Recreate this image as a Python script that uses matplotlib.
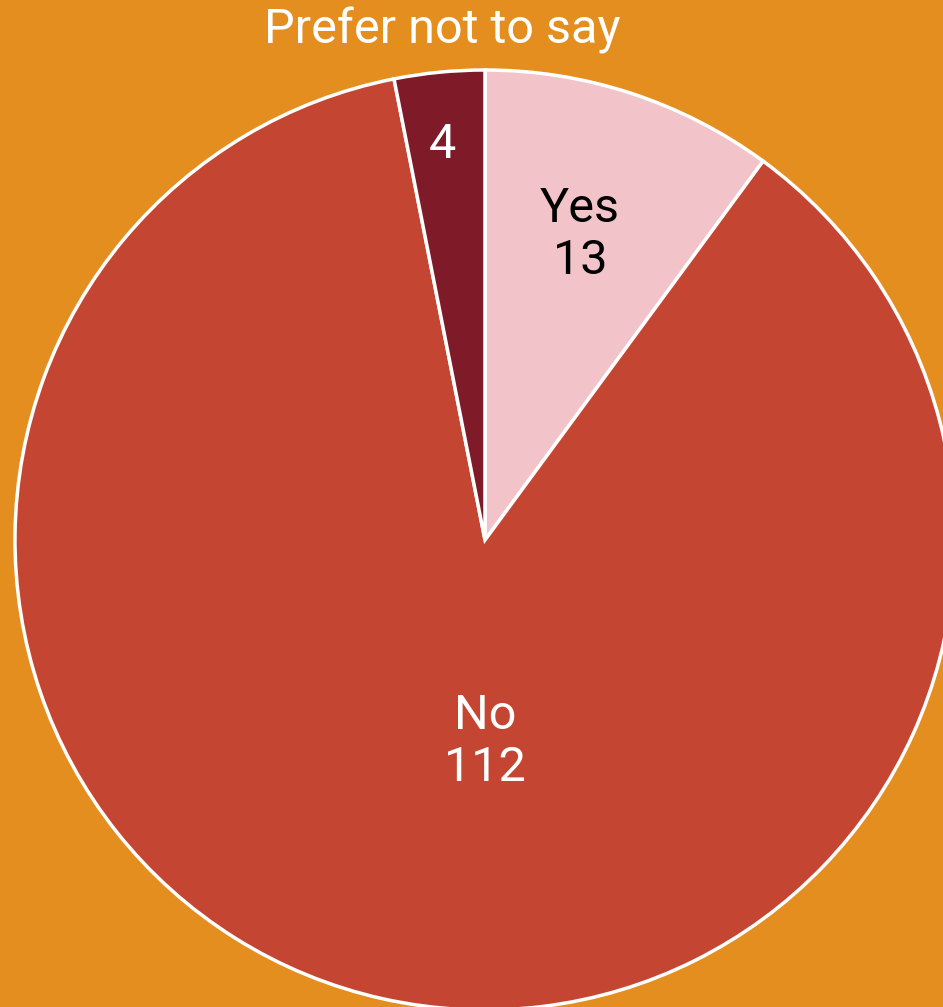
import matplotlib
matplotlib.use("Agg")
import matplotlib.pyplot as plt

# Survey answers, clockwise from 12 o'clock
answers = ["Yes", "No", "Prefer not to say"]
counts = [13, 112, 4]
colors = ["#F2C3C9", "#C44632", "#7F1A29"]
bg = "#E58E20"

plt.rcParams["font.family"] = ["Roboto", "DejaVu Sans"]

fig = plt.figure(figsize=(9.43, 10.07), dpi=100, facecolor=bg)
ax = fig.add_axes([0, 0, 1, 1])
ax.set_facecolor(bg)

ax.pie(counts, colors=colors, startangle=90, counterclock=False,
       center=(485, -540), radius=470,
       wedgeprops=dict(edgecolor="white", linewidth=2.5))

# pie() rescales the axes, so fix the limits afterwards
ax.set_xlim(0, 943)
ax.set_ylim(-1007, 0)
ax.set_aspect("equal")
ax.axis("off")

fs = 35
# label text and where it sits
ax.text(580, -235, f"{answers[0]}\n{counts[0]}", ha="center", va="center",
        fontsize=fs, color="black", linespacing=1.17)
ax.text(485, -742, f"{answers[1]}\n{counts[1]}", ha="center", va="center",
        fontsize=fs, color="white", linespacing=1.17)
ax.text(442, -145, str(counts[2]), ha="center", va="center",
        fontsize=fs, color="white")
ax.text(442, -30, answers[2], ha="center", va="center",
        fontsize=fs, color="white")

fig.savefig("out.png", dpi=100, facecolor=bg)
